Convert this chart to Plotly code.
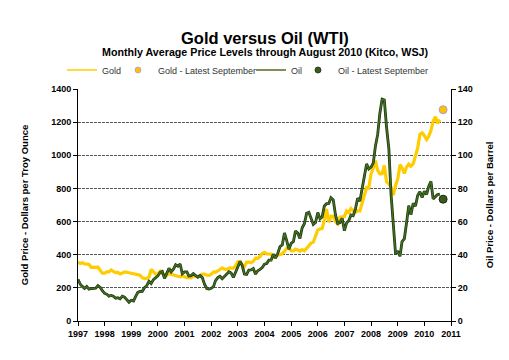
import pandas as pd
import plotly.graph_objects as go

# Monthly averages Jan 1997 - Aug 2010
gold = [
    355, 347, 352, 344, 344, 341, 324, 324, 323, 325, 306, 289,   # 1997
    289, 297, 296, 308, 299, 292, 293, 284, 289, 296, 294, 291,   # 1998
    287, 287, 286, 282, 277, 261, 256, 257, 265, 311, 293, 283,   # 1999
    284, 300, 286, 280, 275, 286, 282, 275, 273, 270, 266, 272,   # 2000
    266, 262, 263, 261, 272, 270, 268, 273, 283, 283, 276, 275,   # 2001
    282, 296, 294, 302, 314, 321, 313, 310, 319, 317, 319, 333,   # 2002
    357, 359, 340, 328, 355, 356, 351, 360, 379, 378, 389, 407,   # 2003
    414, 405, 406, 404, 384, 392, 398, 400, 406, 420, 439, 442,   # 2004
    424, 423, 434, 429, 422, 431, 424, 438, 456, 470, 476, 510,   # 2005
    549, 555, 557, 610, 676, 596, 633, 632, 598, 586, 628, 629,   # 2006
    631, 665, 655, 679, 667, 655, 665, 665, 712, 754, 806, 803,   # 2007
    889, 923, 968, 909, 888, 889, 939, 839, 829, 806, 760, 816,   # 2008
    858, 943, 925, 890, 928, 946, 934, 949, 996, 1043, 1127, 1135,  # 2009
    1118, 1095, 1113, 1149, 1205, 1232, 1193, 1215,                 # 2010
]
oil = [
    25.2, 22.2, 20.9, 19.7, 20.8, 19.2, 19.6, 19.9, 19.8, 21.3, 20.2, 18.3,
    16.7, 16.1, 15.0, 15.4, 14.9, 13.7, 14.1, 13.4, 15.0, 14.4, 12.9, 11.3,
    12.5, 12.0, 14.7, 17.3, 17.8, 17.9, 20.1, 21.3, 23.9, 22.6, 25.0, 26.1,
    27.2, 29.4, 29.9, 25.7, 28.8, 31.8, 29.7, 31.3, 33.9, 33.1, 34.4, 28.5,
    29.6, 29.6, 27.2, 27.4, 28.6, 27.6, 26.4, 27.4, 26.2, 22.2, 19.6, 19.3,
    19.7, 20.7, 24.4, 26.2, 27.0, 25.5, 26.9, 28.4, 29.7, 28.9, 26.3, 29.4,
    32.9, 35.9, 33.6, 28.3, 28.1, 30.7, 30.8, 31.6, 28.3, 30.3, 31.1, 32.2,
    34.3, 34.7, 36.7, 36.7, 40.3, 38.0, 40.7, 44.9, 45.9, 53.1, 48.5, 43.3,
    46.8, 48.0, 54.3, 53.0, 49.8, 56.3, 58.7, 65.0, 65.6, 62.4, 58.3, 59.4,
    65.5, 61.6, 62.7, 69.4, 70.8, 70.9, 74.4, 73.1, 63.9, 58.9, 59.4, 62.0,
    54.5, 59.3, 60.4, 64.0, 63.5, 67.5, 74.1, 72.4, 79.9, 85.8, 94.8, 91.7,
    92.9, 95.4, 105.5, 112.6, 125.4, 133.9, 133.4, 116.7, 104.1, 76.6, 57.3, 41.1,
    41.7, 39.1, 47.9, 49.6, 59.0, 69.6, 64.1, 71.0, 69.4, 75.7, 78.0, 74.5,
    78.3, 76.4, 81.2, 84.3, 73.7, 75.3, 76.3, 76.6,
]
dates = pd.date_range("1997-01-01", periods=len(gold), freq="MS")

latest_date = ["2010-09-15"]
gold_latest = [1275]
oil_latest = [73.5]

FONT = "Liberation Sans, Arial, sans-serif"
GOLD_C = "#FFCC00"
OIL_C = "#41701F"
OIL_EDGE = "#1E3310"
GOLD_MK = "#FFC000"
OIL_MK = "#3B5A1C"

W, H = 509, 360
ML, MR, MT, MB = 70, 66, 81, 47
PW = W - ML - MR
PH = H - MT - MB

fig = go.Figure()
# plotted marks
fig.add_trace(go.Scatter(x=dates, y=gold, name="Gold", mode="lines", showlegend=False,
                         line=dict(color=GOLD_C, width=3.2)))
fig.add_trace(go.Scatter(x=latest_date, y=gold_latest, name="Gold - Latest September",
                         mode="markers", showlegend=False,
                         marker=dict(color=GOLD_MK, size=8, line=dict(color="#A8A0D8", width=1))))
fig.add_trace(go.Scatter(x=dates, y=oil, yaxis="y2", mode="lines", showlegend=False,
                         hoverinfo="skip", line=dict(color=OIL_EDGE, width=2.8)))
fig.add_trace(go.Scatter(x=dates, y=oil, name="Oil", yaxis="y2", mode="lines", showlegend=False,
                         line=dict(color=OIL_C, width=1.4)))
fig.add_trace(go.Scatter(x=latest_date, y=oil_latest, name="Oil - Latest September",
                         yaxis="y2", mode="markers", showlegend=False,
                         marker=dict(color=OIL_MK, size=8, line=dict(color="#1E2E10", width=1))))

# legend entries (thin symbols like the original)
fig.add_trace(go.Scatter(x=[None], y=[None], name="Gold", mode="lines", legend="legend",
                         line=dict(color=GOLD_C, width=1.3)))
fig.add_trace(go.Scatter(x=[None], y=[None], name="Gold - Latest September", mode="markers",
                         legend="legend2",
                         marker=dict(color=GOLD_MK, size=6, line=dict(color="#A8A0D8", width=0.8))))
fig.add_trace(go.Scatter(x=[None], y=[None], name="Oil", mode="lines", legend="legend3",
                         line=dict(color="#556B1E", width=1.3)))
fig.add_trace(go.Scatter(x=[None], y=[None], name="Oil - Latest September", mode="markers",
                         legend="legend4",
                         marker=dict(color=OIL_MK, size=6, line=dict(color="#1E2E10", width=0.8))))

tickfont = dict(family=FONT, size=9, color="#000000", weight="bold")
titlefont = dict(family=FONT, size=9.5, color="#000000", weight="bold")
legfont = dict(family=FONT, size=9, color="#333333")


def leg(px):
    return dict(orientation="h", x=(px - ML) / PW, xanchor="left",
                y=1 + (MT - 62) / PH, yanchor="middle", font=legfont,
                itemwidth=30, bgcolor="rgba(0,0,0,0)", borderwidth=0)


fig.update_layout(
    width=W, height=H,
    margin=dict(l=ML, r=MR, t=MT, b=MB),
    paper_bgcolor="white", plot_bgcolor="white",
    font=dict(family=FONT, color="#000000"),
    showlegend=True,
    legend=leg(54), legend2=leg(110), legend3=leg(243), legend4=leg(290),
    xaxis=dict(type="date", range=["1997-01-01", "2011-01-01"],
               tick0="1997-01-01", dtick="M12", tickformat="%Y",
               showgrid=False, showline=True, linecolor="#000000", linewidth=1,
               ticks="outside", ticklen=4, tickcolor="#000000",
               tickfont=tickfont, zeroline=False),
    yaxis=dict(range=[0, 1400], dtick=200, showline=True, linecolor="#000000",
               linewidth=1, ticks="outside", ticklen=4, tickcolor="#000000",
               showgrid=True, gridcolor="#555555", gridwidth=1, griddash="3px,1px",
               zeroline=False, tickfont=tickfont,
               title=dict(text="Gold Price - Dollars per Troy Ounce", font=titlefont,
                          standoff=20)),
    yaxis2=dict(range=[0, 140], dtick=20, overlaying="y", side="right",
                showline=True, linecolor="#000000", linewidth=1,
                ticks="outside", ticklen=4, tickcolor="#000000",
                showgrid=False, zeroline=False, tickfont=tickfont,
                title=dict(text="Oil Price - Dollars per Barrel", font=titlefont,
                           standoff=14)),
    annotations=[
        dict(text="Gold versus Oil (WTI)", x=0.5, xref="paper", xanchor="center",
             y=1 + (MT - 30) / PH, yref="paper", yanchor="middle", showarrow=False,
             font=dict(family=FONT, size=16.5, color="#000000", weight="bold")),
        dict(text="Monthly Average Price Levels through August 2010 (Kitco, WSJ)",
             x=0.5, xref="paper", xanchor="center", y=1 + (MT - 44) / PH, yref="paper",
             yanchor="middle", showarrow=False,
             font=dict(family=FONT, size=10.7, color="#000000", weight="bold")),
    ],
)

fig.write_html("out.html")
